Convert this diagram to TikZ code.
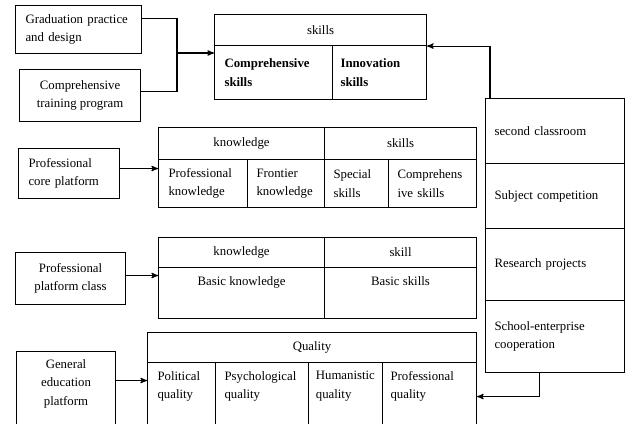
\documentclass[tikz,border=0pt]{standalone}
\usepackage{fontspec}
\setmainfont{Liberation Serif}
\usetikzlibrary{arrows,positioning}
\newcommand\nfont{\fontsize{9.6}{13.8}\selectfont}

\begin{document}
\begin{tikzpicture}[x=0.75pt,y=-0.75pt,>=stealth',line width=0.8pt,
  every node/.style={font=\nfont},
  wh/.style 2 args={minimum width=#1,minimum height=#2},
  lbox/.style 2 args={align=left,text width=#1,inner xsep=#2}]
  \tikzstyle{box}=[draw,anchor=north west,inner sep=0pt,align=center]
  \tikzstyle{txt}=[inner sep=0pt,align=left]
  \useasboundingbox (0,0) rectangle (625,424);

  \node[box,wh={94.5pt}{36pt},lbox={79.5pt}{7.5pt}] (gpd) at (15,5) {Graduation practice\\and design};
  \node[box,wh={90.75pt}{39pt}] (ctp) at (19,69) {Comprehensive\\training program};
  \node[box,wh={75.75pt}{37.5pt},lbox={60.75pt}{7.5pt}] (pcp) at (18,148) {Professional\\core platform};
  \node[box,wh={82.5pt}{39pt}] (ppc) at (15,252) {Professional\\platform class};
  \node[box,wh={74.25pt}{60pt}] (gep) at (16,351) {};
  \node[txt,align=center,below=6pt of gep.north] (gept) {General\\education\\platform};

  \node[box,wh={159pt}{23.25pt}] (skh) at (214,14) {skills};
  \node[box,wh={88.5pt}{40.5pt},lbox={73.5pt}{7.5pt},font=\nfont\bfseries] (cs) at (214,45) {Comprehensive\\skills};
  \node[box,wh={70.5pt}{40.5pt},lbox={58.5pt}{6pt},font=\nfont\bfseries] (inno) at (332,45) {Innovation\\skills};

  \node[box,wh={124.5pt}{24pt}] (kn1) at (158,127) {knowledge};
  \node[box,wh={114pt}{24pt}] (sk1) at (324,127) {skills};
  \node[box,wh={66.75pt}{36pt},lbox={51.75pt}{7.5pt}] (pk) at (158,159) {Professional\\knowledge};
  \node[box,wh={57.75pt}{36pt},lbox={44.25pt}{6.75pt}] (fk) at (247,159) {Frontier\\knowledge};
  \node[box,wh={48pt}{36pt},lbox={34.5pt}{6.75pt}] (ss) at (324,159) {Special\\skills};
  \node[box,wh={66pt}{36pt},lbox={52.5pt}{6.75pt}] (cs2) at (388,159) {Comprehens\\ive skills};

  \node[box,wh={124.5pt}{22.5pt}] (kn2) at (158,237) {knowledge};
  \node[box,wh={114pt}{22.5pt}] (sk2) at (324,237) {skill};
  \node[box,wh={124.5pt}{38.25pt}] (bk) at (158,267) {};
  \node[box,wh={114pt}{38.25pt}] (bs) at (324,267) {};
  \node[txt,below=6.5pt of bk.north] (bkt) {Basic knowledge};
  \node[txt,below=6.5pt of bs.north] (bst) {Basic skills};

  \node[box,wh={246.75pt}{22.5pt}] (q) at (147,332) {Quality};
  \node[box,wh={51pt}{51pt}] (pq) at (147,362) {};
  \node[box,wh={69.75pt}{51pt}] (psq) at (215,362) {};
  \node[box,wh={55.5pt}{51pt}] (hq) at (308,362) {};
  \node[box,wh={70.5pt}{51pt}] (prq) at (382,362) {};
  \node[txt,below right=6.5pt and 7.5pt of pq.north west] (pqt) {Political\\quality};
  \node[txt,below right=6.5pt and 6.75pt of psq.north west] (psqt) {Psychological\\quality};
  \node[txt,below right=6.5pt and 5.5pt of hq.north west] (hqt) {Humanistic\\quality};
  \node[txt,below right=6.5pt and 6pt of prq.north west] (prqt) {Professional\\quality};

  \node[box,wh={104.25pt}{48.75pt},lbox={90.75pt}{6.75pt}] (sc) at (485,98) {second classroom};
  \node[box,wh={104.25pt}{48.75pt},lbox={90.75pt}{6.75pt}] (subj) at (485,163) {Subject competition};
  \node[box,wh={104.25pt}{54pt},lbox={90.75pt}{6.75pt}] (rp) at (485,228) {Research projects};
  \node[box,wh={104.25pt}{54pt},lbox={90.75pt}{6.75pt}] (sec) at (485,300) {School-enterprise\\cooperation};

  \coordinate (j) at (177,53);
  \draw ([yshift=8.25pt]gpd.east) -| (j);
  \draw ([yshift=3pt]ctp.east) -| (j);
  \draw[->] (j) -- (j -| cs.west);
  \draw[->] ([xshift=3.75pt]sc.north west) |- (skh.south east);
  \draw[->] ([yshift=3.75pt]pcp.east) coordinate (p1) -- (p1 -| pk.west);
  \draw[->] ([yshift=2.25pt]ppc.east) coordinate (p2) -- (p2 -| bk.west);
  \draw[->] ([yshift=8.25pt]gep.east) coordinate (p3) -- (p3 -| pq.west);
  \draw[->] ([xshift=-11.6pt]sec.south) |- (prq.east);
\end{tikzpicture}
\end{document}
